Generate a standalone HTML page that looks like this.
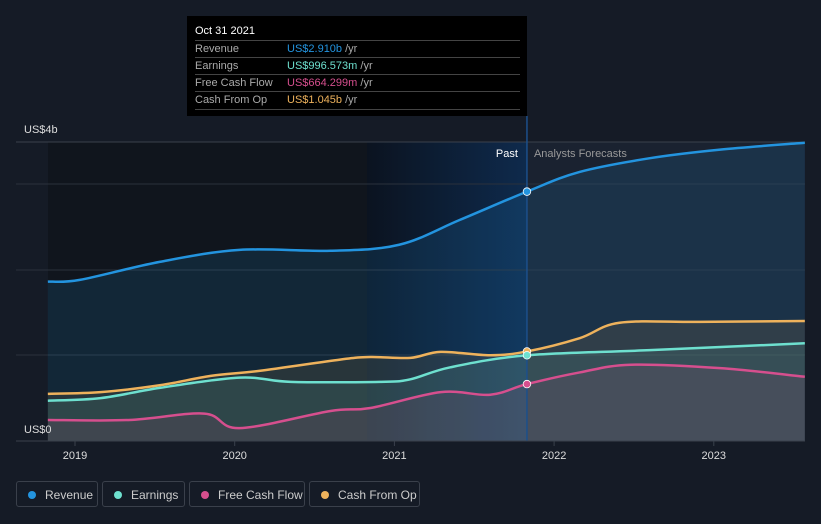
<!DOCTYPE html>
<html><head><meta charset="utf-8">
<style>
body{margin:0;background:#151b26;font-family:"Liberation Sans",sans-serif;}
#wrap{position:relative;width:821px;height:524px;overflow:hidden;}
.tt{position:absolute;left:187px;top:16px;width:340px;height:100px;background:#000;}
.tt .h{position:absolute;left:8px;top:9px;color:#fff;font-size:11px;}
.row{position:absolute;left:8px;width:325px;height:17px;border-top:1px solid #444;font-size:11px;color:#aaa;}
.row span.l{position:absolute;left:0;top:2px}
.row span.v{position:absolute;left:92px;top:2px}
.leg{position:absolute;top:481px;height:26px;border:1px solid #3a404b;border-radius:3px;color:#ccc;font-size:12px;line-height:26px;box-sizing:border-box;}
.leg i{position:absolute;left:11px;top:9px;width:8px;height:8px;border-radius:50%;}
.leg span{position:absolute;left:28px;}
</style></head><body>
<div id="wrap">
<svg id="svg" width="821" height="524" style="position:absolute;left:0;top:0"></svg>
<div class="tt">
<div class="h">Oct 31 2021</div>
<div class="row" style="top:24px"><span class="l">Revenue</span><span class="v"><b style="font-weight:normal;color:#2394df">US$2.910b</b> /yr</span></div>
<div class="row" style="top:41px"><span class="l">Earnings</span><span class="v"><b style="font-weight:normal;color:#6ee0cf">US$996.573m</b> /yr</span></div>
<div class="row" style="top:58px"><span class="l">Free Cash Flow</span><span class="v"><b style="font-weight:normal;color:#d64f8e">US$664.299m</b> /yr</span></div>
<div class="row" style="top:75px;border-bottom:1px solid #444"><span class="l">Cash From Op</span><span class="v"><b style="font-weight:normal;color:#eeb25c">US$1.045b</b> /yr</span></div>
</div>
<div class="leg" style="left:16px;width:82px"><i style="background:#2394df"></i><span>Revenue</span></div>
<div class="leg" style="left:102px;width:83px"><i style="background:#6ee0cf"></i><span>Earnings</span></div>
<div class="leg" style="left:189px;width:116px"><i style="background:#d64f8e"></i><span>Free Cash Flow</span></div>
<div class="leg" style="left:309px;width:111px"><i style="background:#eeb25c"></i><span>Cash From Op</span></div>
</div>
<script>
const yearTicks=[2019,2020,2021,2022,2023];
const revX=[2018.83,2019.03,2019.53,2020.03,2020.6,2021.03,2021.41,2021.83,2022.16,2022.6,2023.04,2023.57];
const revY=[1.86,1.88,2.09,2.23,2.22,2.29,2.58,2.91,3.14,3.30,3.40,3.48];
const earnX=[2018.83,2019.16,2019.53,2020.03,2020.35,2020.91,2021.1,2021.35,2021.83,2022.6,2023.57];
const earnY=[0.47,0.50,0.62,0.74,0.69,0.69,0.72,0.86,1.00,1.06,1.14];
const fcfX=[2018.83,2019.34,2019.81,2020.03,2020.6,2020.85,2021.29,2021.6,2021.83,2022.16,2022.48,2023.04,2023.57];
const fcfY=[0.245,0.245,0.32,0.15,0.35,0.385,0.57,0.54,0.664,0.80,0.89,0.85,0.75];
const cfoX=[2018.83,2019.16,2019.53,2019.85,2020.16,2020.66,2020.85,2021.1,2021.29,2021.6,2021.83,2022.16,2022.41,2022.91,2023.57];
const cfoY=[0.55,0.57,0.65,0.76,0.82,0.95,0.98,0.97,1.04,1.00,1.045,1.20,1.38,1.39,1.40];
const pastEnd=2021.83;
const X=t=>75+(t-2019)*159.7, Y=v=>441-v*85.7;
const NS='http://www.w3.org/2000/svg', svg=document.getElementById('svg');
function mk(tag,attrs,name){const e=document.createElementNS(NS,tag);for(const k in attrs)e.setAttribute(k,attrs[k]);


svg.appendChild(e);return e;}
function path(xs,ys){const p=xs.map((x,i)=>[X(x),Y(ys[i])]);let d='M'+p[0][0]+','+p[0][1];
for(let i=0;i<p.length-1;i++){const p0=p[Math.max(i-1,0)],p1=p[i],p2=p[i+1],p3=p[Math.min(i+2,p.length-1)];
d+=' C'+(p1[0]+(p2[0]-p0[0])/6)+','+(p1[1]+(p2[1]-p0[1])/6)+' '+(p2[0]-(p3[0]-p1[0])/6)+','+(p2[1]-(p3[1]-p1[1])/6)+' '+p2[0]+','+p2[1];}return d;}
const defs=mk('defs',{},'defs');
defs.innerHTML='<linearGradient id="band" x1="0" x2="1"><stop offset="0" stop-color="#0b1320"/><stop offset="1" stop-color="#0e2a4c"/></linearGradient>';
mk('rect',{x:48,y:142,width:X(pastEnd)-48,height:299,fill:'#10151d'},'past-bg');
mk('rect',{x:367,y:142,width:X(pastEnd)-367,height:299,fill:'url(#band)'},'highlight-band');
mk('rect',{x:X(pastEnd),y:142,width:805-X(pastEnd),height:299,fill:'#1a2230'},'forecast-bg');
[142,184,270,355].forEach((g,i)=>mk('line',{x1:16,x2:805,y1:g,y2:g,stroke:i==0?'#3a414c':'#2a313c','stroke-width':1},'gridline'));
const series=[[revX,revY,'#2394df','revenue',0.14],[cfoX,cfoY,'#eeb25c','cash-from-op',0.1],[earnX,earnY,'#6ee0cf','earnings',0.1],[fcfX,fcfY,'#d64f8e','free-cash-flow',0.1]];
series.forEach(([xs,ys,c,n,o])=>{const d=path(xs,ys);
mk('path',{d:d+' L'+X(xs[xs.length-1])+',441 L'+X(xs[0])+',441 Z',fill:c,'fill-opacity':o},n+'-area');});
series.forEach(([xs,ys,c,n])=>{mk('path',{d:path(xs,ys),fill:'none',stroke:c,'stroke-width':2.5},n+'-line');});
mk('line',{x1:X(pastEnd),x2:X(pastEnd),y1:116,y2:441,stroke:'#1c4f8a','stroke-width':1.5},'past-divider');
series.forEach(([xs,ys,c,n])=>{const i=xs.indexOf(pastEnd);mk('circle',{cx:X(xs[i]),cy:Y(ys[i]),r:3.8,fill:c,stroke:'#fff','stroke-width':0.8},n+'-marker');});
mk('line',{x1:16,x2:805,y1:441,y2:441,stroke:'#3a414c'},'x-axis');
yearTicks.forEach(t=>{mk('line',{x1:X(t),x2:X(t),y1:441,y2:446,stroke:'#3a414c'},'x-tick');
const e=mk('text',{x:X(t),y:459,fill:'#ddd','font-size':11,'text-anchor':'middle'},'x-tick-label');e.textContent=t;});
let t=mk('text',{x:24,y:133,fill:'#ddd','font-size':11},'y-max-label');t.textContent='US$4b';
t=mk('text',{x:24,y:433,fill:'#ddd','font-size':11},'y-min-label');t.textContent='US$0';
t=mk('text',{x:X(pastEnd)-9,y:157,fill:'#fff','font-size':11,'text-anchor':'end'},'past-label');t.textContent='Past';
t=mk('text',{x:X(pastEnd)+7,y:157,fill:'#999','font-size':11},'forecast-label');t.textContent='Analysts Forecasts';
</script>
</body></html>
